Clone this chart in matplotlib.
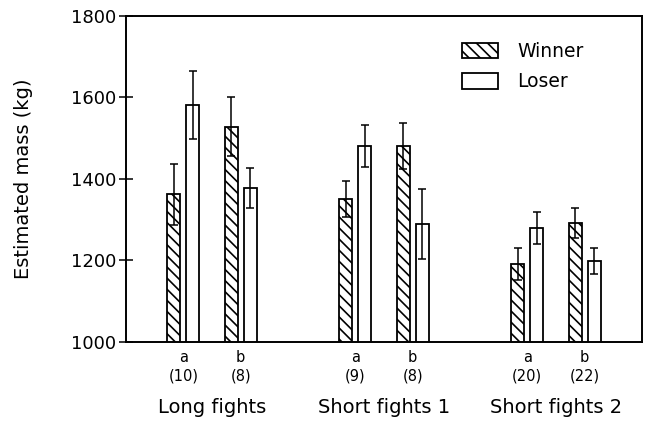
import numpy as np
import matplotlib.pyplot as plt
from matplotlib.transforms import blended_transform_factory

plt.rcParams['font.family'] = ['DejaVu Sans']
plt.rcParams['hatch.linewidth'] = 1.2

groups = ['Long fights', 'Short fights 1', 'Short fights 2']
sub = ['a', 'b', 'a', 'b', 'a', 'b']
counts = ['(10)', '(8)', '(9)', '(8)', '(20)', '(22)']
pos = np.array([0, 1, 3, 4, 6, 7])

winner = [1362, 1528, 1351, 1481, 1191, 1291]
winner_err = [75, 72, 44, 56, 40, 37]
loser = [1582, 1378, 1481, 1290, 1280, 1199]
loser_err = [84, 48, 52, 86, 39, 32]

fig = plt.figure(figsize=(6.48, 4.22), dpi=100)
ax = fig.add_axes([0.1944, 0.1896, 0.7963, 0.7725])

w = 0.23
off = 0.165
ax.bar(pos - off, winner, w, color='white', edgecolor='black',
       hatch='\\\\\\', linewidth=1.3, label='Winner')
ax.bar(pos + off, loser, w, color='white', edgecolor='black',
       linewidth=1.3, label='Loser')
ax.errorbar(pos - off, winner, yerr=winner_err, fmt='none', ecolor='black',
            elinewidth=1.1, capsize=3, capthick=1.1)
ax.errorbar(pos + off, loser, yerr=loser_err, fmt='none', ecolor='black',
            elinewidth=1.1, capsize=3, capthick=1.1)

ax.set_ylim(1000, 1800)
ax.set_xlim(-1, 8)
ax.set_yticks([1000, 1200, 1400, 1600, 1800])
ax.tick_params(axis='y', direction='inout', length=10, width=1.1,
               labelsize=13, pad=2)
ax.set_xticks(pos)
ax.set_xticklabels([s + '\n' + c for s, c in zip(sub, counts)],
                   fontsize=10.5, linespacing=1.3)
ax.tick_params(axis='x', length=0, pad=6)
for s in ax.spines.values():
    s.set_linewidth(1.4)

ax.set_ylabel('Estimated mass (kg)', fontsize=14, labelpad=27)

tr = blended_transform_factory(ax.transData, ax.transAxes)
for i, g in enumerate(groups):
    ax.text(3 * i + 0.5, -0.2, g, transform=tr, ha='center', va='center',
            fontsize=14)

ax.legend(loc='upper left', bbox_to_anchor=(0.651, 0.92), frameon=False,
          fontsize=13.5, handlelength=1.95, handleheight=0.9,
          handletextpad=1.0, labelspacing=0.6, borderpad=0,
          borderaxespad=0)

fig.savefig('out.png', dpi=100)
